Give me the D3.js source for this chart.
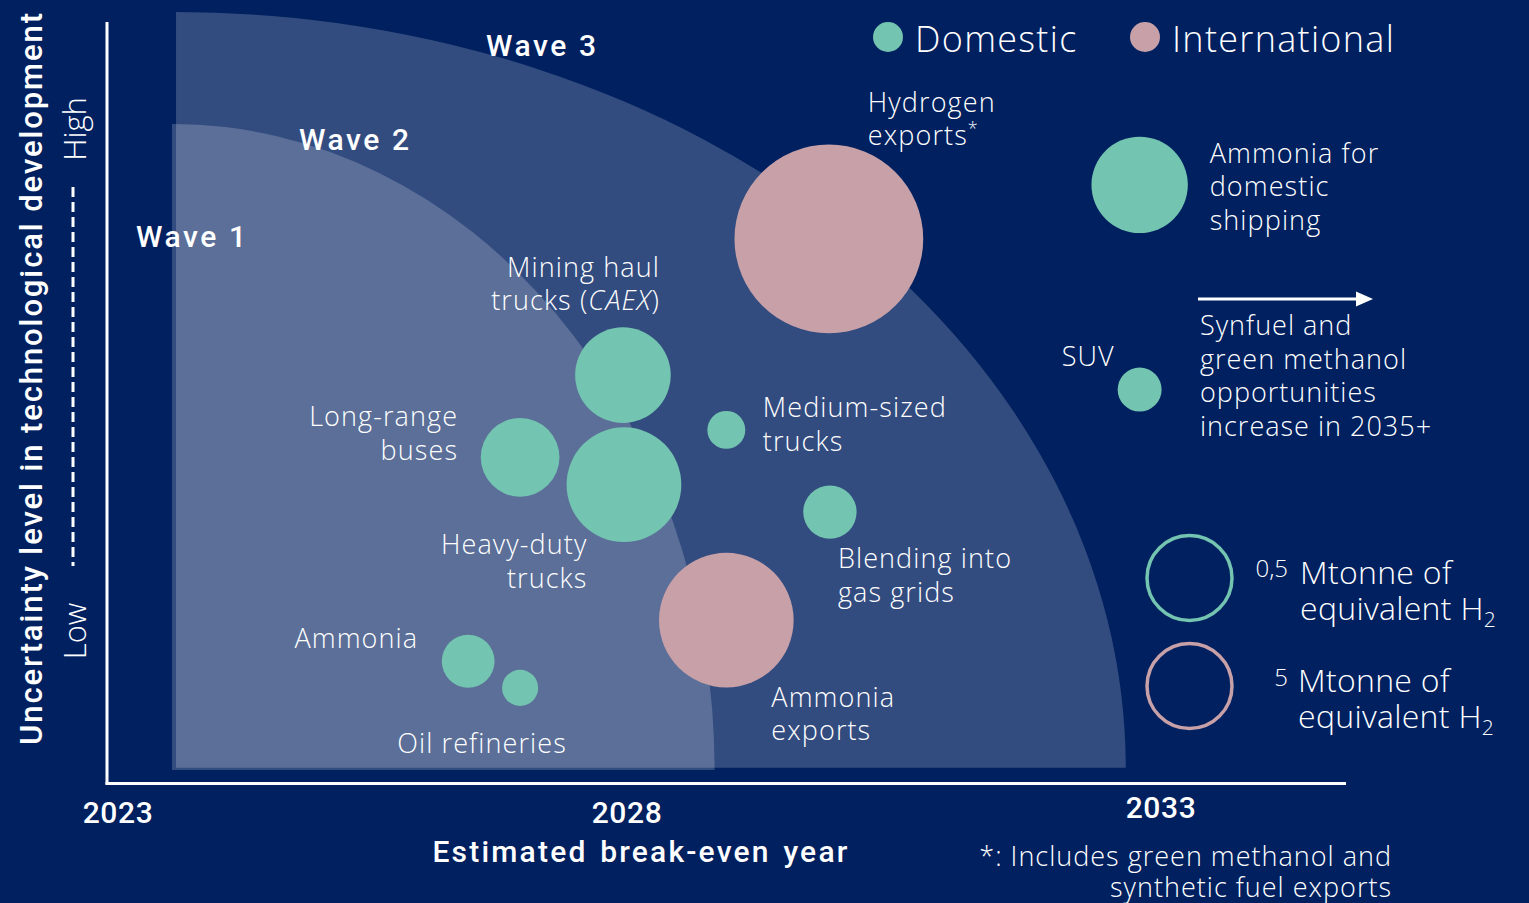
<!DOCTYPE html>
<html><head><meta charset="utf-8">
<script src="https://cdn.jsdelivr.net/npm/d3@7"></script>
<style>
html,body{margin:0;padding:0;background:#00205F;}
svg{display:block;}
</style></head><body>
<svg id="chart" width="1529" height="903"></svg>
<script>
// ---------------- data ----------------
const tickYears = [2023, 2028, 2033];
const tickLabels = ["2023", "2028", "2033"];
const names = ["Hydrogen exports", "Ammonia exports", "Ammonia for domestic shipping", "SUV",
  "Mining haul trucks", "Heavy-duty trucks", "Long-range buses", "Medium-sized trucks",
  "Blending into gas grids", "Ammonia", "Oil refineries"];
const markets = ["International", "International", "Domestic", "Domestic", "Domestic", "Domestic",
  "Domestic", "Domestic", "Domestic", "Domestic", "Domestic"];
const breakEvenYear = [2029.89, 2028.93, 2032.80, 2032.80, 2027.96, 2027.97, 2026.95, 2028.93, 2029.90, 2026.44, 2026.95];
const uncertainty = [7.15, 2.14, 7.86, 5.17, 5.36, 3.92, 4.28, 4.64, 3.56, 1.60, 1.25];
const volumeMt = [23, 11.7, 0.6, 0.125, 0.59, 0.85, 0.4, 0.093, 0.184, 0.18, 0.084];
const waveShapes = ["Wave 3 area", "Wave 1 area"];
const waveStartYear = [2023.57, 2023.53];
const waveEndYear = [2032.67, 2028.82];
const waveTop = [10.13, 8.66];
const waveBottom = [0.2, 0.17];
const waveLabels = ["Wave 1", "Wave 2", "Wave 3"];
const legendMarkets = ["Domestic", "International"];
const legendVolumes = [0.5, 5];
const legendVolumeLabels = ["0,5", "5"];

// ---------------- layout (pixels) ----------------
const W = 1529, H = 903;
const colors = {Domestic: "#73C4B0", International: "#C8A0A8"};
const labelFont = "'Open Sans', 'Noto Sans', sans-serif";
const boldFont = "Roboto, 'Open Sans', sans-serif";

const x = d3.scaleLinear().domain(tickYears).range([118, 627, 1161]);
const y = d3.scaleLinear().domain([0, 10]).range([783, 22]);
const rScale = {
  Domestic: d3.scaleSqrt().domain([0, 0.5]).range([0, 44]),
  International: d3.scaleSqrt().domain([0, 5]).range([0, 44])
};

// label placement relative to bubble centre
const labelLayout = {
  "Hydrogen exports": {dx: 39, dy: -127, anchor: "start", lines: [["Hydrogen"], ["exports", {sup: "*"}]]},
  "Ammonia exports": {dx: 45, dy: 86.5, anchor: "start", lines: [["Ammonia"], ["exports"]]},
  "Ammonia for domestic shipping": {dx: 70, dy: -21.7, anchor: "start", lines: [["Ammonia for"], ["domestic"], ["shipping"]]},
  "SUV": {dx: -78, dy: -23.3, anchor: "start", lines: [["SUV"]]},
  "Mining haul trucks": {dx: 37, dy: -98.3, anchor: "end", lines: [["Mining haul"], ["trucks (", {it: "CAEX"}, ")"]]},
  "Heavy-duty trucks": {dx: -36.5, dy: 69.8, anchor: "end", lines: [["Heavy-duty"], ["trucks"]]},
  "Long-range buses": {dx: -62, dy: -30.8, anchor: "end", lines: [["Long-range"], ["buses"]]},
  "Medium-sized trucks": {dx: 36.5, dy: -12.4, anchor: "start", lines: [["Medium-sized"], ["trucks"]]},
  "Blending into gas grids": {dx: 8, dy: 56.3, anchor: "start", lines: [["Blending into"], ["gas grids"]]},
  "Ammonia": {dx: -50, dy: -13.6, anchor: "end", lines: [["Ammonia"]]},
  "Oil refineries": {dx: -38, dy: 65.3, anchor: "middle", lines: [["Oil refineries"]]}
};
const lineH = 33.3;

const svg = d3.select("#chart");
svg.append("rect").attr("width", W).attr("height", H).attr("fill", "#00205F");

// ---------------- wave areas ----------------
const wavePath = i => {
  const x0 = x(waveStartYear[i]), x1 = x(waveEndYear[i]);
  const yt = y(waveTop[i]), yb = y(waveBottom[i]);
  return `M${x0},${yb}L${x0},${yt}A${x1 - x0},${yb - yt} 0 0 1 ${x1},${yb}Z`;
};
svg.append("g").selectAll("path").data(waveShapes).join("path")
  .attr("d", (d, i) => wavePath(i))
  .attr("fill", "#ffffff").attr("fill-opacity", 0.2);

// wave labels
const waveLabelPos = [[136, 247], [299, 150], [486, 56]];
svg.append("g").selectAll("text").data(waveLabels).join("text")
  .attr("x", (d, i) => waveLabelPos[i][0]).attr("y", (d, i) => waveLabelPos[i][1])
  .attr("fill", "#fff").attr("font-family", boldFont).attr("font-weight", 500)
  .attr("font-size", 30).attr("letter-spacing", 2.6)
  .text(d => d);

// ---------------- axes ----------------
svg.append("line").attr("x1", 107).attr("x2", 107).attr("y1", 22).attr("y2", 784.5)
  .attr("stroke", "#fff").attr("stroke-width", 3);
svg.append("line").attr("x1", 105.5).attr("x2", 1346).attr("y1", 783.5).attr("y2", 783.5)
  .attr("stroke", "#fff").attr("stroke-width", 3);

const tickDy = [0, 0, -5];
svg.append("g").selectAll("text").data(tickYears).join("text")
  .attr("x", d => x(d)).attr("y", (d, i) => 823 + tickDy[i])
  .attr("text-anchor", "middle").attr("fill", "#fff")
  .attr("font-family", boldFont).attr("font-weight", 500).attr("font-size", 30)
  .attr("letter-spacing", 0.6)
  .text((d, i) => tickLabels[i]);

svg.append("text").attr("x", 641).attr("y", 862).attr("text-anchor", "middle")
  .attr("fill", "#fff").attr("font-family", boldFont).attr("font-weight", 500)
  .attr("font-size", 30).attr("letter-spacing", 2.2).attr("word-spacing", 3)
  .text("Estimated break-even year");

svg.append("text").attr("transform", "translate(42,378) rotate(-90)")
  .attr("text-anchor", "middle").attr("fill", "#fff")
  .attr("font-family", boldFont).attr("font-weight", 500).attr("font-size", 31)
  .attr("letter-spacing", 1.9)
  .text("Uncertainty level in technological development");

svg.append("line").attr("x1", 73).attr("x2", 73).attr("y1", 187).attr("y2", 566)
  .attr("stroke", "#fff").attr("stroke-width", 3).attr("stroke-dasharray", "10,5");
svg.append("text").attr("transform", "translate(86,129) rotate(-90)")
  .attr("text-anchor", "middle").attr("fill", "#fff")
  .attr("font-family", labelFont).attr("font-weight", 300).attr("font-size", 31).text("High");
svg.append("text").attr("transform", "translate(86,631) rotate(-90)")
  .attr("text-anchor", "middle").attr("fill", "#fff")
  .attr("font-family", labelFont).attr("font-weight", 300).attr("font-size", 31).text("Low");

// ---------------- bubbles ----------------
const bubbles = names.map((n, i) => ({name: n, market: markets[i], year: breakEvenYear[i], u: uncertainty[i], v: volumeMt[i]}));
svg.append("g").selectAll("circle").data(bubbles).join("circle")
  .attr("cx", d => x(d.year)).attr("cy", d => y(d.u))
  .attr("r", d => rScale[d.market](d.v))
  .attr("fill", d => colors[d.market]);

// labels
const lg = svg.append("g").attr("font-family", labelFont).attr("font-weight", 300)
  .attr("font-size", 27).attr("fill", "#fff").attr("letter-spacing", 1.1);
bubbles.forEach(d => {
  const L = labelLayout[d.name];
  const cx = x(d.year), cy = y(d.u);
  const t = lg.append("text").attr("text-anchor", L.anchor);
  L.lines.forEach((parts, li) => {
    const ly = cy + L.dy + li * lineH;
    let first = true;
    parts.forEach(p => {
      const ts = t.append("tspan");
      if (first) { ts.attr("x", cx + L.dx).attr("y", ly); first = false; }
      if (typeof p === "string") ts.text(p);
      else if (p.it) ts.attr("font-style", "italic").text(p.it);
      else if (p.sup) { ts.attr("font-size", 18).attr("dy", -10).text(p.sup); }
    });
  });
});

// ---------------- top legend ----------------
const legX = [888, 1145];
const tl = svg.append("g");
tl.selectAll("circle").data(legendMarkets).join("circle")
  .attr("cx", (d, i) => legX[i]).attr("cy", 37).attr("r", 15)
  .attr("fill", d => colors[d]);
tl.selectAll("text").data(legendMarkets).join("text")
  .attr("x", (d, i) => legX[i] + 27).attr("y", 52)
  .attr("fill", "#fff").attr("font-family", labelFont).attr("font-weight", 300)
  .attr("font-size", 36).attr("letter-spacing", 1.3).text(d => d);

// ---------------- size legend ----------------
const sizeLegY = [578, 686];
const sl = svg.append("g");
sl.selectAll("circle").data(legendMarkets).join("circle")
  .attr("cx", 1189.5).attr("cy", (d, i) => sizeLegY[i])
  .attr("r", (d, i) => rScale[d](legendVolumes[i]) - 1.5)
  .attr("fill", "none").attr("stroke", d => colors[d]).attr("stroke-width", 3.5);
const valRight = [1288, 1288];
sl.selectAll("text.val").data(legendVolumeLabels).join("text").attr("class", "val")
  .attr("x", (d, i) => valRight[i]).attr("y", (d, i) => sizeLegY[i] + (i === 0 ? -0.7 : -0.3))
  .attr("text-anchor", "end").attr("fill", "#fff")
  .attr("font-family", labelFont).attr("font-weight", 300).attr("font-size", 24).text(d => d);
const unitX = [1300, 1298];
legendMarkets.forEach((m, i) => {
  const t = sl.append("text").attr("fill", "#fff").attr("font-family", labelFont)
    .attr("font-weight", 300).attr("font-size", 32).attr("letter-spacing", 0.3);
  t.append("tspan").attr("x", unitX[i]).attr("y", sizeLegY[i] + 5.5).text("Mtonne of");
  t.append("tspan").attr("x", unitX[i]).attr("y", sizeLegY[i] + 42).text("equivalent H");
  t.append("tspan").attr("font-size", 21).attr("dy", 7).text("2");
});

// ---------------- arrow + annotation ----------------
svg.append("line").attr("x1", 1198).attr("x2", 1358).attr("y1", 299).attr("y2", 299)
  .attr("stroke", "#fff").attr("stroke-width", 3);
svg.append("path").attr("d", "M1356,291.5L1373,299L1356,306.5Z").attr("fill", "#fff");
const ann = svg.append("text").attr("fill", "#fff").attr("font-family", labelFont)
  .attr("font-weight", 300).attr("font-size", 27).attr("letter-spacing", 1);
["Synfuel and", "green methanol", "opportunities", "increase in 2035+"].forEach((s, i) => {
  ann.append("tspan").attr("x", 1200).attr("y", 335 + i * 33.7).text(s);
});

// ---------------- footnote ----------------
const fn = svg.append("text").attr("fill", "#fff").attr("font-family", labelFont)
  .attr("font-weight", 300).attr("font-size", 27).attr("text-anchor", "end")
  .attr("letter-spacing", 1);
fn.append("tspan").attr("x", 1392).attr("y", 866).text("*: Includes green methanol and");
fn.append("tspan").attr("x", 1392).attr("y", 897).text("synthetic fuel exports");
</script>
</body></html>
